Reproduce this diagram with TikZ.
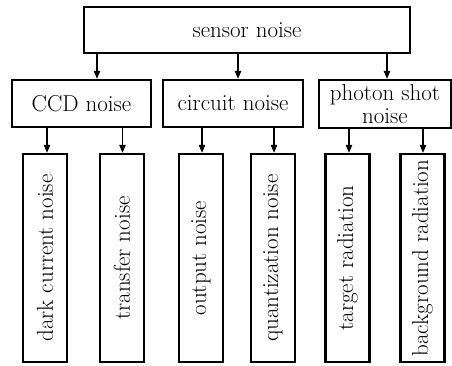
\documentclass[tikz,border=0pt]{standalone}
\usetikzlibrary{arrows.meta}
\begin{document}
\begin{tikzpicture}[x=1pt,y=-1pt,
  box/.style={draw=black,line width=2.4pt,fill=white,inner sep=0pt,align=center,
    font=\fontsize{23}{25}\selectfont},
  leaf/.style={box,minimum width=44pt,minimum height=208pt},
  arr/.style={line width=1.1pt,-{Triangle[length=8pt,width=6.5pt]}}]
\useasboundingbox (0,0) rectangle (452,365);
\node[box,minimum width=326pt,minimum height=46pt] (top) at (247,30) {sensor noise};
\node[box,minimum width=139pt,minimum height=47pt] (ccd) at (81.5,103.5) {CCD noise};
\node[box,minimum width=140pt,minimum height=47pt] (cir) at (233,103.5) {circuit noise};
\node[box,minimum width=132pt,minimum height=48pt] (pho) at (385,104) {photon shot\\[-2pt]noise};
\node[leaf] (dark) at (45,258) {\rotatebox{90}{dark current noise}};
\node[leaf] (tra) at (122,258) {\rotatebox{90}{transfer noise}};
\node[leaf] (out) at (201,258) {\rotatebox{90}{output noise}};
\node[leaf] (qua) at (273,258) {\rotatebox{90}{quantization noise}};
\node[leaf] (tar) at (347.5,258) {\rotatebox{90}{target radiation}};
\node[leaf] (bg) at (422.5,258) {\rotatebox{90}{background radiation}};
\coordinate (a1) at (97,0);
\coordinate (a2) at (238,0);
\coordinate (a3) at (387,0);
\draw[arr] (top.south -| a1) -- (ccd.north -| a1);
\draw[arr] (top.south -| a2) -- (cir.north -| a2);
\draw[arr] (top.south -| a3) -- (pho.north -| a3);
\coordinate (b1) at (47,0);
\coordinate (b2) at (122.5,0);
\coordinate (b3) at (202,0);
\coordinate (b4) at (274,0);
\coordinate (b5) at (349,0);
\coordinate (b6) at (423,0);
\draw[arr] (ccd.south -| b1) -- (dark.north -| b1);
\draw[arr] (ccd.south -| b2) -- (tra.north -| b2);
\draw[arr] (cir.south -| b3) -- (out.north -| b3);
\draw[arr] (cir.south -| b4) -- (qua.north -| b4);
\draw[arr] (pho.south -| b5) -- (tar.north -| b5);
\draw[arr] (pho.south -| b6) -- (bg.north -| b6);
\end{tikzpicture}
\end{document}
